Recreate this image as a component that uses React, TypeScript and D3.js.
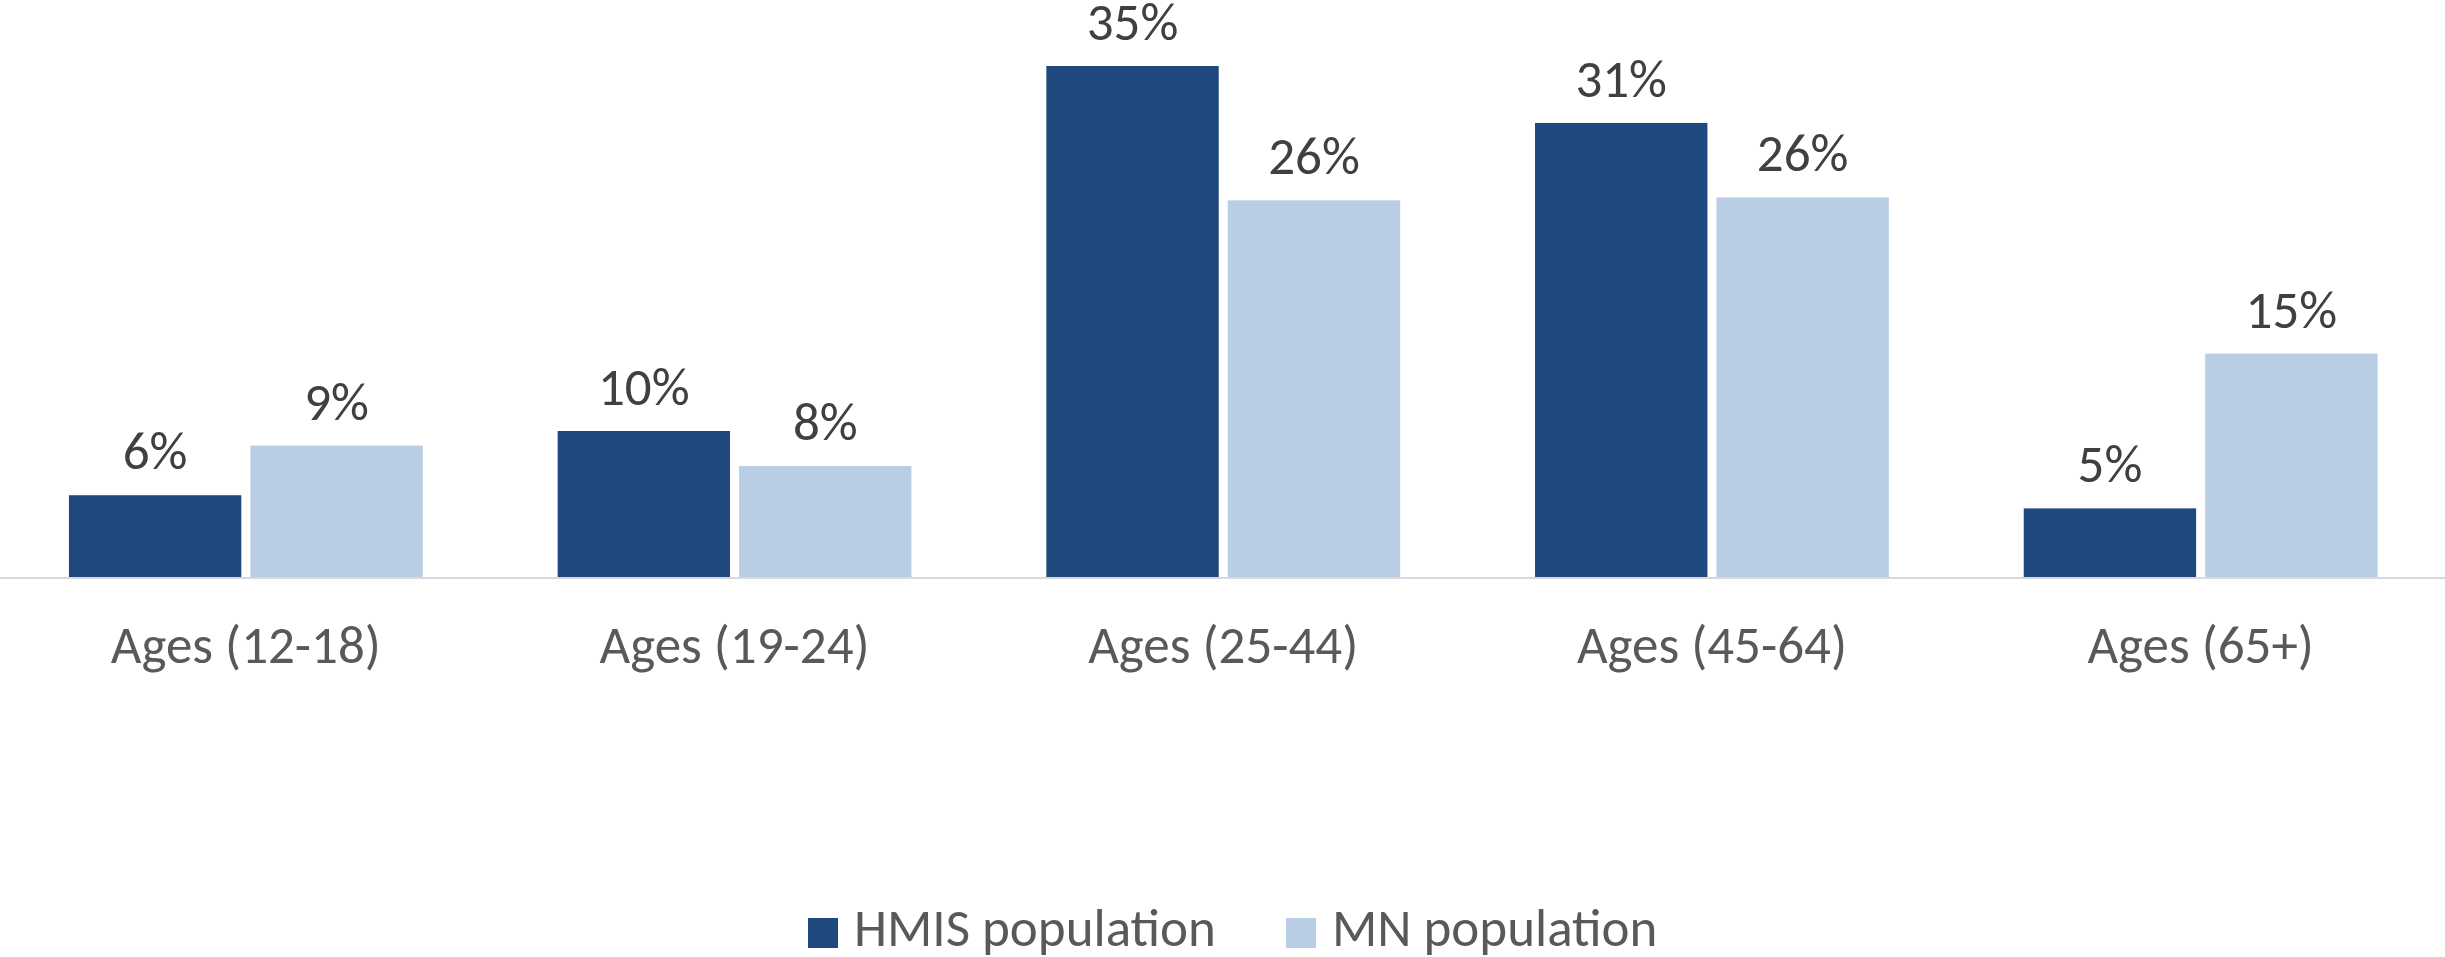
import React from "react";
import * as d3 from "d3";

const categories = ["Ages (12-18)", "Ages (19-24)", "Ages (25-44)", "Ages (45-64)", "Ages (65+)"];
const seriesNames = ["HMIS population", "MN population"];
const hmisValues = [5.6, 10.0, 35.0, 31.1, 4.7];
const mnValues = [9.0, 7.6, 25.8, 26.0, 15.3];

const COLORS = ["#1F497D", "#B9CDE5"];
const FONT = "Carlito, Lato, 'Liberation Sans Narrow', 'Open Sans', sans-serif";

const W = 2445;
const H = 957;
const BASE_Y = 577;
const TOP_Y = 66;

export default function App() {
  const x0 = d3.scaleBand<string>().domain(categories).range([1.5, 2445]).paddingInner(0.276).paddingOuter(0.138);
  const x1 = d3.scaleBand<string>().domain(seriesNames).range([0, x0.bandwidth()]).paddingInner(0.05);
  const y = d3.scaleLinear().domain([0, 35]).range([BASE_Y, TOP_Y]);
  const fmt = (v: number) => d3.format(".0f")(v) + "%";
  const seriesValues = [hmisValues, mnValues];

  const legendX = [808, 1286];

  return (
    <svg width={W} height={H} style={{ position: "absolute", left: 0, top: 0, background: "#fff" }} fontFamily={FONT}>
      <rect x={0} y={0} width={W} height={H} fill="#fff" />
      {categories.map((c, i) => (
        <g key={c} transform={`translate(${x0(c)},0)`}>
          {seriesNames.map((s, j) => {
            const v = seriesValues[j][i];
            const bx = x1(s)!;
            return (
              <g key={s}>
                <rect x={bx} y={y(v)} width={x1.bandwidth()} height={BASE_Y - y(v)} fill={COLORS[j]} />
                <text x={bx + x1.bandwidth() / 2} y={y(v) - 26} textAnchor="middle" fontSize={53} fill="#404040">
                  {fmt(v)}
                </text>
              </g>
            );
          })}
          <text x={x0.bandwidth() / 2} y={663} textAnchor="middle" fontSize={53} fill="#595959">
            {c}
          </text>
        </g>
      ))}
      <line x1={0} x2={W} y1={BASE_Y + 1} y2={BASE_Y + 1} stroke="#D9D9D9" strokeWidth={2} />
      {seriesNames.map((s, j) => (
        <g key={s} transform={`translate(${legendX[j]},0)`}>
          <rect x={0} y={918} width={30} height={30} fill={COLORS[j]} />
          <text x={46} y={946} fontSize={53} fill="#595959">
            {s}
          </text>
        </g>
      ))}
    </svg>
  );
}
